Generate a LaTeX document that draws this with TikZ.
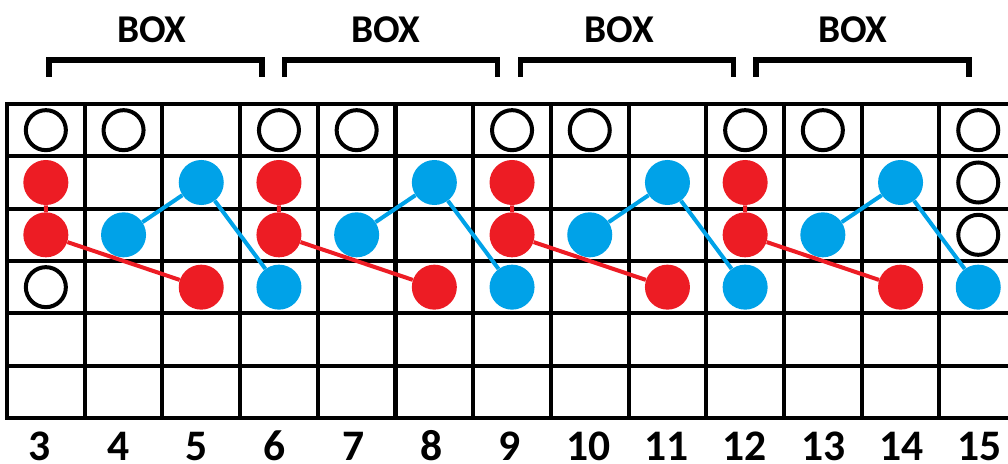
\documentclass[tikz,border=0pt]{standalone}
\usepackage{fontspec}
\setmainfont{Carlito}
\usepackage{xcolor}
\usepackage{tikz}
\definecolor{dotred}{RGB}{237,28,36}
\definecolor{dotblue}{RGB}{0,162,232}

\begin{document}
\begin{tikzpicture}[
  x=0.025cm, y=-0.025cm,
  grid/.style={line width=2.85pt, draw=black, line cap=rect},
  brace/.style={line width=3.9pt, draw=black},
  hole/.style={circle, draw=black, fill=white, line width=2.85pt, minimum size=1cm, inner sep=0pt},
  reddot/.style={circle, fill=dotred, minimum size=1.125cm, inner sep=0pt},
  bluedot/.style={circle, fill=dotblue, minimum size=1.125cm, inner sep=0pt},
  redlink/.style={line width=2.85pt, draw=dotred},
  bluelink/.style={line width=2.85pt, draw=dotblue},
  boxlabel/.style={anchor=base, font=\bfseries\fontsize{28}{30}\selectfont},
  collabel/.style={anchor=base, inner sep=0pt, font=\bfseries\fontsize{31}{33}\selectfont}
]
\useasboundingbox (0,0) rectangle (1008,464);
% grid
\foreach \j in {0,...,6}
  \draw[grid] (7,{104+52.33*\j}) -- (1015,{104+52.33*\j});
\foreach \i in {0,...,12}
  \draw[grid] ({7+77.7*\i},104) -- ({7+77.7*\i},418);
% brackets and labels
\foreach \p in {0,...,3} {
  \draw[brace] ({49+235.7*\p},77) -- ({49+235.7*\p},60) -- ({262+235.7*\p},60) -- ({262+235.7*\p},77);
  \node[boxlabel] (box\p) at ({152+233.7*\p},43) {BOX};
}
\foreach \k in {3,...,15}
  \node[collabel] (lab\k) at ({40+78.33*(\k-3)},461) {\k};
% empty places
\foreach \c/\r in {3/1,4/1,6/1,7/1,9/1,10/1,12/1,13/1,15/1,15/2,15/3,3/4}
  \node[hole] (n\c-\r) at ({45.85+77.7*(\c-3)},{130.17+52.33*(\r-1)}) {};
% red and blue dots
\foreach \c/\r in {3/2,3/3,5/4,6/2,6/3,8/4,9/2,9/3,11/4,12/2,12/3,14/4}
  \node[reddot] (n\c-\r) at ({45.85+77.7*(\c-3)},{130.17+52.33*(\r-1)}) {};
\foreach \c/\r in {4/3,5/2,6/4,7/3,8/2,9/4,10/3,11/2,12/4,13/3,14/2,15/4}
  \node[bluedot] (n\c-\r) at ({45.85+77.7*(\c-3)},{130.17+52.33*(\r-1)}) {};
% links
\foreach \p/\q/\s/\t in {3/4/5/6,6/7/8/9,9/10/11/12,12/13/14/15} {
  \draw[redlink] (n\p-2) -- (n\p-3) -- (n\s-4);
  \draw[bluelink] (n\q-3) -- (n\s-2) -- (n\t-4);
}
\end{tikzpicture}
\end{document}
